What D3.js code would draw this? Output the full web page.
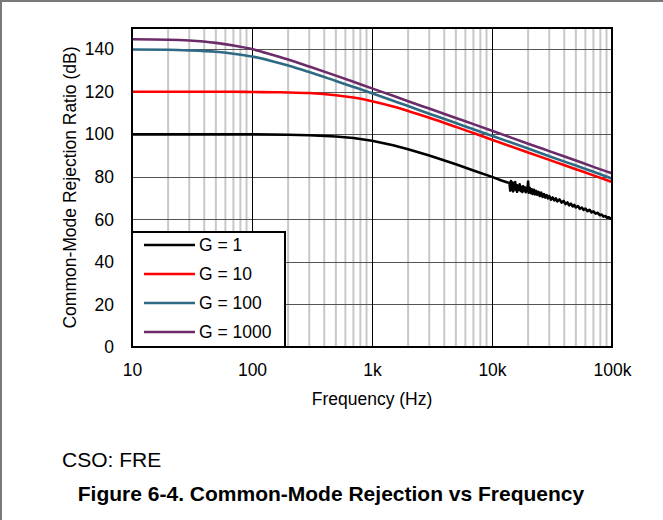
<!DOCTYPE html>
<html>
<head>
<meta charset="utf-8">
<script src="https://cdn.jsdelivr.net/npm/d3@7/dist/d3.min.js"></script>
<style>
  html, body { margin: 0; padding: 0; background: #fff; }
  svg { display: block; font-family: "Liberation Sans", Arial, Helvetica, sans-serif; }
</style>
</head>
<body>
<svg id="chart" width="663" height="520"></svg>
<script>
// Frequency points (Hz) shared by the smooth gain curves
const freqs = [10, 20, 30, 50, 70, 100, 150, 200, 300, 500, 700, 1000, 1500, 2000, 3000, 5000, 7000, 10000, 20000, 30000, 50000, 70000, 100000];

// CMRR (dB) for each gain setting
const cmrrG10 = [120, 120, 120, 120, 120, 119.9, 119.8, 119.7, 119.4, 118.4, 117.3, 115.6, 113.1, 111.0, 107.8, 103.5, 100.6, 97.5, 91.5, 88.0, 83.6, 80.7, 77.6];
const cmrrG100 = [139.9, 139.8, 139.5, 138.8, 137.9, 136.6, 134.3, 132.4, 129.3, 125.1, 122.3, 119.3, 115.8, 113.3, 109.7, 105.3, 102.4, 99.3, 93.3, 89.7, 85.3, 82.4, 79.2];
const cmrrG1000 = [144.7, 144.5, 144.1, 143.0, 141.8, 140.1, 137.3, 135.2, 131.9, 127.6, 124.7, 121.6, 118.1, 115.6, 112.1, 107.7, 104.8, 101.7, 95.6, 92.1, 87.7, 84.7, 81.7];

// G = 1: smooth part up to ~14 kHz, then the measured (noisy) tail to 100 kHz
const g1Freqs = [10, 20, 50, 100, 200, 300, 500, 700, 1000, 1500, 2000, 3000, 5000, 7000, 10000, 12000, 13500,
  14000, 14200, 14400, 14600, 14800, 15000, 15200, 15400, 15600, 15800, 16000, 16200, 16400, 16700, 17000, 17300,
  17600, 17900, 18200, 18500, 18800, 19100, 19400, 19700, 20000, 20200, 20600, 21000, 21400, 21800, 22300, 22800,
  23300, 23800, 24400, 25000, 25700, 26400, 27100, 27800, 28500, 29300, 30000, 31000, 32000, 33000, 34000, 35000,
  36500, 38000, 39500, 41000, 42500, 44000, 45500, 47000, 48500, 50000, 52000, 54000, 56000, 58000, 60000, 62500,
  65000, 67500, 70000, 73000, 76000, 79000, 82000, 85000, 88000, 91000, 94000, 97000, 100000];
const cmrrG1 = [100, 100, 100, 100, 99.8, 99.6, 99.0, 98.3, 97.0, 94.9, 93.0, 90.0, 85.9, 83.0, 80.0, 78.3, 77.4,
  77.2, 73.5, 78.0, 74.0, 77.3, 73.2, 76.8, 74.6, 77.6, 73.8, 76.2, 73.0, 75.8, 73.9, 76.5, 73.4,
  75.3, 72.9, 75.6, 73.6, 75.0, 72.8, 74.8, 73.5, 77.8, 72.6, 74.9, 72.4, 74.2, 72.0, 73.9, 71.8,
  73.4, 71.6, 72.9, 71.0, 72.6, 70.6, 71.9, 70.3, 71.4, 69.9, 71.0, 69.3, 70.3, 68.9, 69.9, 68.5,
  69.4, 67.9, 68.7, 67.2, 68.0, 66.6, 67.4, 66.1, 66.8, 65.6, 66.3, 65.0, 65.6, 64.5, 65.1, 63.9,
  64.5, 63.3, 63.8, 62.7, 63.1, 62.0, 62.3, 61.3, 61.6, 60.8, 61.0, 60.3, 60.5];

const seriesNames = ["G = 1", "G = 10", "G = 100", "G = 1000"];
const seriesColors = ["#000000", "#ff0000", "#2f6a84", "#6b2c69"];

const xTickValues = [10, 100, 1000, 10000, 100000];
const xTickLabels = ["10", "100", "1k", "10k", "100k"];
const yTickValues = [0, 20, 40, 60, 80, 100, 120, 140];

const series = [
  { name: seriesNames[0], color: seriesColors[0], pts: g1Freqs.map((f, i) => [f, cmrrG1[i]]), curve: d3.curveLinear },
  { name: seriesNames[1], color: seriesColors[1], pts: freqs.map((f, i) => [f, cmrrG10[i]]), curve: d3.curveMonotoneX },
  { name: seriesNames[2], color: seriesColors[2], pts: freqs.map((f, i) => [f, cmrrG100[i]]), curve: d3.curveMonotoneX },
  { name: seriesNames[3], color: seriesColors[3], pts: freqs.map((f, i) => [f, cmrrG1000[i]]), curve: d3.curveMonotoneX }
];

const svg = d3.select("#chart");
const W = 663, H = 520;
const plot = { left: 132, right: 612, top: 28, bottom: 347 };
const labelSize = 17.5;

// Page frame (top and left edges)
svg.append("line").attr("x1", 0).attr("x2", W).attr("y1", 1).attr("y2", 1)
  .attr("stroke", "#7a7a7a").attr("stroke-width", 2);
svg.append("line").attr("x1", 1).attr("x2", 1).attr("y1", 0).attr("y2", H)
  .attr("stroke", "#7a7a7a").attr("stroke-width", 2);

const x = d3.scaleLog().domain([10, 100000]).range([plot.left, plot.right]);
const y = d3.scaleLinear().domain([0, 150]).range([plot.bottom, plot.top]);

const grid = svg.append("g");

// Minor decade gridlines
const minorTicks = [];
for (const decade of [10, 100, 1000, 10000]) {
  for (let k = 2; k <= 9; k++) minorTicks.push(decade * k);
}
grid.selectAll("line.minor").data(minorTicks).join("line")
  .attr("class", "minor")
  .attr("x1", d => x(d)).attr("x2", d => x(d))
  .attr("y1", plot.top).attr("y2", plot.bottom)
  .attr("stroke", "#c8c8c8").attr("stroke-width", 2);

// Horizontal gridlines
grid.selectAll("line.hgrid").data(yTickValues.slice(1)).join("line")
  .attr("class", "hgrid")
  .attr("x1", plot.left).attr("x2", plot.right)
  .attr("y1", d => Math.round(y(d)) + 0.5).attr("y2", d => Math.round(y(d)) + 0.5)
  .attr("stroke", "#555").attr("stroke-width", 1);

// Major decade gridlines
grid.selectAll("line.major").data(xTickValues.slice(1, -1)).join("line")
  .attr("class", "major")
  .attr("x1", d => Math.round(x(d)) + 0.5).attr("x2", d => Math.round(x(d)) + 0.5)
  .attr("y1", plot.top).attr("y2", plot.bottom)
  .attr("stroke", "#000").attr("stroke-width", 1);

// Curves
svg.append("g").selectAll("path").data(series.slice().reverse()).join("path")
  .attr("d", d => d3.line().x(p => x(p[0])).y(p => y(p[1])).curve(d.curve)(d.pts))
  .attr("fill", "none")
  .attr("stroke", d => d.color)
  .attr("stroke-width", 2.6)
  .attr("stroke-linejoin", "round");

// Plot border
svg.append("rect")
  .attr("x", plot.left).attr("y", plot.top)
  .attr("width", plot.right - plot.left).attr("height", plot.bottom - plot.top)
  .attr("fill", "none").attr("stroke", "#000").attr("stroke-width", 2);

// Axes (labels only)
const xAxis = svg.append("g")
  .attr("transform", `translate(0,${plot.bottom + 14})`)
  .call(d3.axisBottom(x).tickValues(xTickValues).tickFormat((d, i) => xTickLabels[i]).tickSize(0));
xAxis.select(".domain").remove();
xAxis.selectAll("text").attr("font-size", labelSize).attr("fill", "#000")
  .attr("font-family", "'Liberation Sans', Arial, sans-serif");

const yAxis = svg.append("g")
  .attr("transform", `translate(${plot.left - 15},0)`)
  .call(d3.axisLeft(y).tickValues(yTickValues).tickSize(0));
yAxis.select(".domain").remove();
yAxis.selectAll("text").attr("font-size", labelSize).attr("fill", "#000")
  .attr("font-family", "'Liberation Sans', Arial, sans-serif");

// Axis titles
svg.append("text")
  .attr("x", (plot.left + plot.right) / 2).attr("y", 405)
  .attr("text-anchor", "middle").attr("font-size", labelSize)
  .text("Frequency (Hz)");
svg.append("text")
  .attr("transform", `translate(76,${(plot.top + plot.bottom) / 2}) rotate(-90)`)
  .attr("text-anchor", "middle").attr("font-size", labelSize)
  .text("Common-Mode Rejection Ratio (dB)");

// Legend
const leg = svg.append("g");
leg.append("rect")
  .attr("x", plot.left).attr("y", 232)
  .attr("width", 153).attr("height", plot.bottom - 232)
  .attr("fill", "#fff").attr("stroke", "#000").attr("stroke-width", 2);
const rows = leg.selectAll("g.row").data(series).join("g")
  .attr("class", "row")
  .attr("transform", (d, i) => `translate(0,${245 + i * 29})`);
rows.append("line")
  .attr("x1", 144).attr("x2", 195).attr("y1", 0).attr("y2", 0)
  .attr("stroke", d => d.color).attr("stroke-width", 2.6);
rows.append("text")
  .attr("x", 199).attr("y", 0).attr("dy", "0.36em")
  .attr("font-size", labelSize)
  .text(d => d.name);

// Footer texts
svg.append("text")
  .attr("x", 62).attr("y", 467).attr("font-size", 21)
  .text("CSO: FRE");
svg.append("text")
  .attr("x", 331).attr("y", 501).attr("text-anchor", "middle")
  .attr("font-size", 21).attr("font-weight", "bold")
  .text("Figure 6-4. Common-Mode Rejection vs Frequency");
</script>
</body>
</html>
